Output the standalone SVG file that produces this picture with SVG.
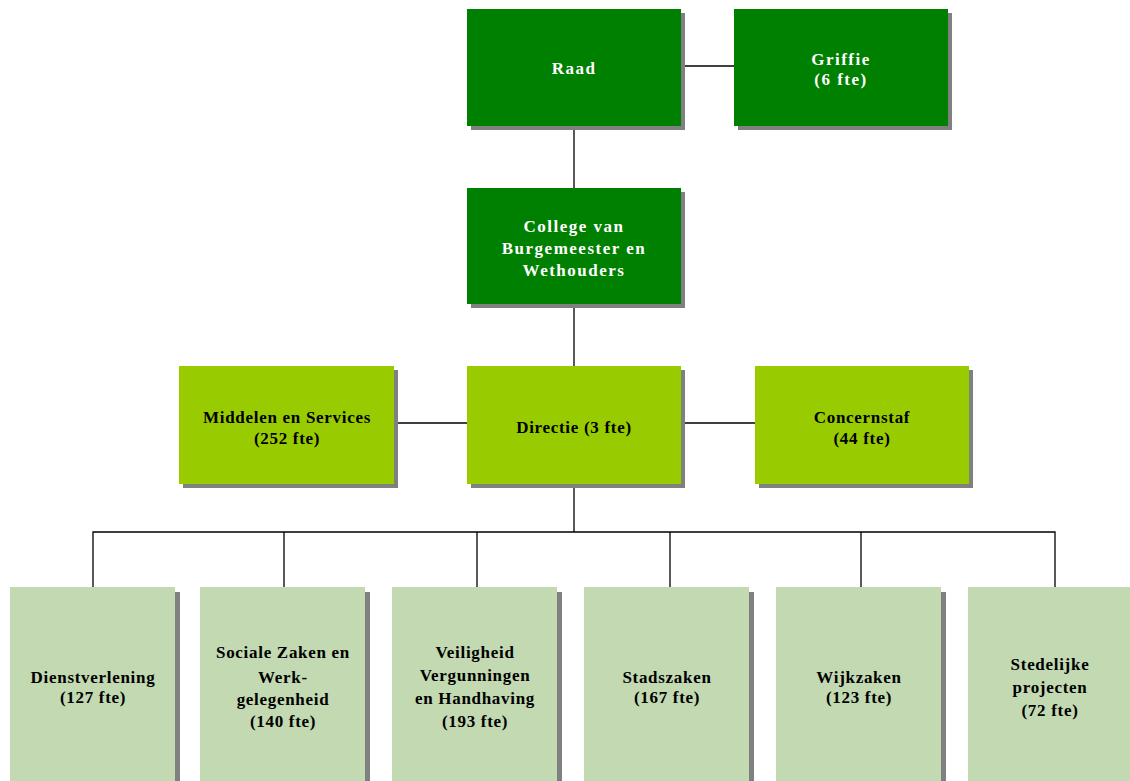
<svg xmlns="http://www.w3.org/2000/svg" width="1130" height="781" viewBox="0 0 1130 781">
<style>
.sh{fill:#808080}
.d{fill:#008000}
.l{fill:#99cc00}
.p{fill:#c2d9b2}
text{font-family:"Liberation Serif","Times New Roman",serif;font-weight:bold;font-size:17px;text-anchor:middle}
.w{fill:#ffffff;letter-spacing:1.5px}
.b{fill:#000000;letter-spacing:0.7px}
.c{stroke:#000;stroke-width:1.3;fill:none}
</style>
<rect width="1130" height="781" fill="#fff"/>
<g id="connectors" class="c">
<path d="M681 66H734"/>
<path d="M574 126V188"/>
<path d="M574 304V366"/>
<path d="M394 423H467"/>
<path d="M681 423H755"/>
<path d="M574 484V532"/>
<path d="M93 587V532H1055V587"/>
<path d="M284 532V587"/>
<path d="M477 532V587"/>
<path d="M670 532V587"/>
<path d="M861 532V587"/>
</g>
<g id="raad"><rect class="sh" x="471" y="13" width="214" height="117"/><rect class="d" x="467" y="9" width="214" height="117"/><text class="w" x="574" y="74">Raad</text></g>
<g id="griffie"><rect class="sh" x="738" y="13" width="214" height="117"/><rect class="d" x="734" y="9" width="214" height="117"/><text class="w" x="841" y="65">Griffie</text><text class="w" x="841" y="85">(6 fte)</text></g>
<g id="college"><rect class="sh" x="471" y="192" width="214" height="116"/><rect class="d" x="467" y="188" width="214" height="116"/><text class="w" x="574" y="232">College van</text><text class="w" x="574" y="254">Burgemeester en</text><text class="w" x="574" y="276">Wethouders</text></g>
<g id="middelen"><rect class="sh" x="183" y="370" width="215" height="118"/><rect class="l" x="179" y="366" width="215" height="118"/><text class="b" x="287" y="423">Middelen en Services</text><text class="b" x="287" y="444">(252 fte)</text></g>
<g id="directie"><rect class="sh" x="471" y="370" width="214" height="118"/><rect class="l" x="467" y="366" width="214" height="118"/><text class="b" x="574" y="433">Directie (3 fte)</text></g>
<g id="concernstaf"><rect class="sh" x="759" y="370" width="214" height="118"/><rect class="l" x="755" y="366" width="214" height="118"/><text class="b" x="862" y="423">Concernstaf</text><text class="b" x="862" y="444">(44 fte)</text></g>
<g id="dienstverlening"><rect class="sh" x="15" y="592" width="165" height="200"/><rect class="p" x="10" y="587" width="165" height="200"/><text class="b" x="93" y="683">Dienstverlening</text><text class="b" x="93" y="703">(127 fte)</text></g>
<g id="sociale"><rect class="sh" x="205" y="592" width="165" height="200"/><rect class="p" x="200" y="587" width="165" height="200"/><text class="b" x="283" y="658">Sociale Zaken en</text><text class="b" x="283" y="683">Werk-</text><text class="b" x="283" y="705">gelegenheid</text><text class="b" x="283" y="727">(140 fte)</text></g>
<g id="veiligheid"><rect class="sh" x="397" y="592" width="165" height="200"/><rect class="p" x="392" y="587" width="165" height="200"/><text class="b" x="475" y="658">Veiligheid</text><text class="b" x="475" y="681">Vergunningen</text><text class="b" x="475" y="704">en Handhaving</text><text class="b" x="475" y="727">(193 fte)</text></g>
<g id="stadszaken"><rect class="sh" x="589" y="592" width="165" height="200"/><rect class="p" x="584" y="587" width="165" height="200"/><text class="b" x="667" y="683">Stadszaken</text><text class="b" x="667" y="703">(167 fte)</text></g>
<g id="wijkzaken"><rect class="sh" x="781" y="592" width="165" height="200"/><rect class="p" x="776" y="587" width="165" height="200"/><text class="b" x="859" y="683">Wijkzaken</text><text class="b" x="859" y="703">(123 fte)</text></g>
<g id="stedelijke"><rect class="sh" x="973" y="592" width="165" height="200"/><rect class="p" x="968" y="587" width="165" height="200"/><text class="b" x="1050" y="670">Stedelijke</text><text class="b" x="1050" y="693">projecten</text><text class="b" x="1050" y="716">(72 fte)</text></g>
</svg>
